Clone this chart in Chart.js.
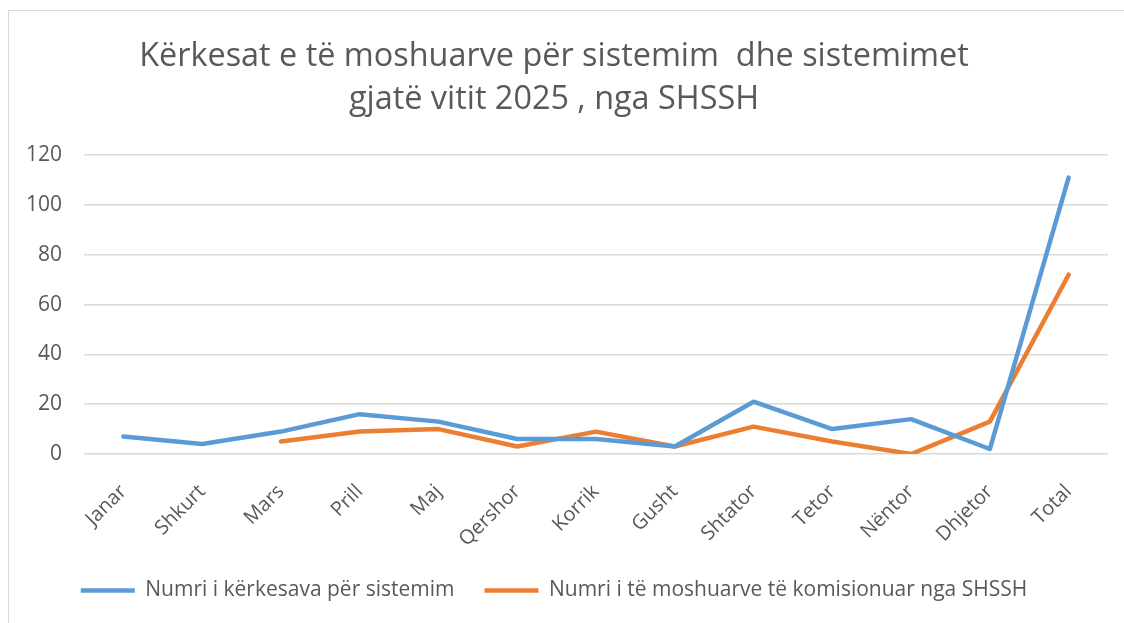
<!DOCTYPE html>
<html lang="sq">
<head>
  <meta charset="UTF-8">
  <title>Kërkesat e të moshuarve për sistemim</title>
  <script src="https://cdn.jsdelivr.net/npm/chart.js@4.4.1/dist/chart.umd.min.js"></script>
  <style>
    body { margin: 0; background: #fff; }
    #frame {
      position: absolute; left: 8px; top: 10px;
      width: 1140px; height: 640px;
      border: 1.5px solid #d9d9d9;
    }
    #wrap { position: absolute; left: 0; top: 0; width: 1124px; height: 623px; }
  </style>
</head>
<body>
  <div id="frame"></div>
  <div id="wrap"><canvas id="chart"></canvas></div>

  <script>
    // DATA
    const months = ["Janar", "Shkurt", "Mars", "Prill", "Maj", "Qershor", "Korrik",
                    "Gusht", "Shtator", "Tetor", "Nëntor", "Dhjetor", "Total"];
    const requests = [7, 4, 9, 16, 13, 6, 6, 3, 21, 10, 14, 2, 111];
    const commissioned = [null, null, 5, 9, 10, 3, 9, 3, 11, 5, 0, 13, 72];
    const yTicks = [0, 20, 40, 60, 80, 100, 120];

    const titleLines = ["Kërkesat e të moshuarve për sistemim  dhe sistemimet",
                        "gjatë vitit 2025 , nga SHSSH"];

    const grey = "#595959";
    Chart.defaults.font.family = "'Open Sans', sans-serif";
    Chart.defaults.color = grey;

    const chart = new Chart("chart", {
      type: "line",
      data: {
        labels: months,
        datasets: [{
          label: "Numri i kërkesava për sistemim",
          data: requests,
          borderColor: "#5B9BD5",
          backgroundColor: "#5B9BD5",
          borderWidth: 4.5,
          borderCapStyle: "round",
          borderJoinStyle: "round",
          pointRadius: 0,
          tension: 0
        }, {
          label: "Numri i të moshuarve të komisionuar nga SHSSH",
          data: commissioned,
          borderColor: "#ED7D31",
          backgroundColor: "#ED7D31",
          borderWidth: 4.5,
          borderCapStyle: "round",
          borderJoinStyle: "round",
          pointRadius: 0,
          tension: 0
        }]
      },
      options: {
        responsive: true,
        maintainAspectRatio: false,
        animation: false,
        layout: { padding: { left: 0, right: 16, top: 0, bottom: 12 } },
        plugins: {
          title: {
            display: true,
            text: titleLines,
            font: { size: 32.4, weight: "normal", lineHeight: 1.33 },
            color: grey,
            padding: { top: 35, bottom: 34 }
          },
          legend: {
            position: "bottom",
            labels: {
              usePointStyle: true,
              pointStyle: "line",
              pointStyleWidth: 54,
              boxHeight: 21,
              font: { size: 21 },
              color: grey,
              padding: 30
            }
          },
          tooltip: { enabled: false }
        },
        scales: {
          x: {
            offset: true,
            grid: { display: false },
            border: { display: false },
            ticks: { minRotation: 45, maxRotation: 45, font: { size: 20 }, color: grey, padding: 18 },
            afterFit: (s) => { s.height = 96; }
          },
          y: {
            min: 0, max: 120,
            afterBuildTicks: (s) => { s.ticks = yTicks.map(v => ({ value: v })); },
            grid: { color: "#d9d9d9", lineWidth: 1.5, drawTicks: false },
            border: { display: false },
            ticks: { font: { size: 21 }, color: grey, padding: 22 },
            afterFit: (s) => { s.width = 84; }
          }
        }
      }
    });
  </script>
</body>
</html>
